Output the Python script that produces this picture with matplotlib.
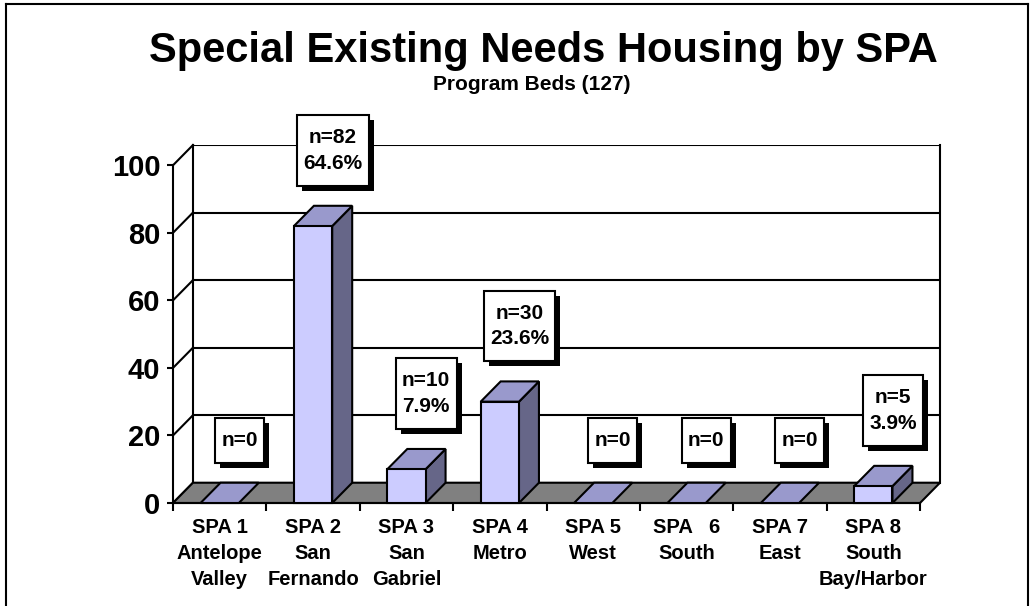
"""
Special Existing Needs Housing by SPA - pseudo 3D column chart
"""

import matplotlib.pyplot as plt
from matplotlib.patches import Polygon
from matplotlib.lines import Line2D
from matplotlib.path import Path
import matplotlib.patheffects as pe

plt.rcParams['font.family'] = ['Liberation Sans', 'DejaVu Sans']
plt.rcParams['font.weight'] = 'bold'

# data
spa_labels = ['SPA 1\nAntelope\nValley', 'SPA 2\nSan\nFernando', 'SPA 3\nSan\nGabriel',
              'SPA 4\nMetro', 'SPA 5\nWest', 'SPA   6\nSouth', 'SPA 7\nEast',
              'SPA 8\nSouth\nBay/Harbor']
beds = [0, 82, 10, 30, 0, 0, 0, 5]
pct_labels = ['', '64.6%', '7.9%', '23.6%', '', '', '', '3.9%']
y_ticks = [0, 20, 40, 60, 80, 100]

# colours
front_col = '#CCCCFF'
top_col = '#9999CC'
side_col = '#666688'
floor_col = '#808080'

# depth of the fake 3D effect, in data units
DX = 0.214
DY = 6.0
bar_w = 0.41
n = len(beds)


def label_box(x0, y0, width, height, mutation_size):
    # rectangle with more room above/below than at the sides
    px = 0.3 * mutation_size
    py = 0.62 * mutation_size
    x0, y0 = x0 - px, y0 - py
    x1, y1 = x0 + width + 2 * px, y0 + height + 2 * py
    return Path([(x0, y0), (x1, y0), (x1, y1), (x0, y1), (x0, y0)], closed=True)


fig = plt.figure(figsize=(10.3, 6.06), dpi=100)
ax = fig.add_axes([173 / 1030, 103 / 606, 767 / 1030, 358 / 606])
ax.set_xlim(0, n + DX)
ax.set_ylim(0, 100 + DY)

# back wall + side wall
for v in y_ticks:
    ax.plot([DX, n + DX], [v + DY, v + DY], color='black', lw=1.5, zorder=1)
    ax.plot([0, DX], [v, v + DY], color='black', lw=1.5, zorder=1, clip_on=False)
ax.plot([DX, DX], [DY, 100 + DY], color='black', lw=1.5, zorder=1, clip_on=False)
ax.plot([n + DX, n + DX], [DY, 100 + DY], color='black', lw=1.5, zorder=1, clip_on=False)

# floor
floor = Polygon([(0, 0), (n, 0), (n + DX, DY), (DX, DY)], closed=True,
                fc=floor_col, ec='black', lw=1.5, zorder=2, clip_on=False)
ax.add_patch(floor)

# bars
for i, v in enumerate(beds):
    x0 = i + 0.5 - bar_w / 2
    x1 = i + 0.5 + bar_w / 2
    if v == 0:
        ax.add_patch(Polygon([(x0, 0), (x1, 0), (x1 + DX, DY), (x0 + DX, DY)],
                             fc=top_col, ec='black', lw=1.5, zorder=3, clip_on=False))
        continue
    ax.add_patch(Polygon([(x1, 0), (x1 + DX, DY), (x1 + DX, v + DY), (x1, v)],
                         fc=side_col, ec='black', lw=1.5, zorder=3, clip_on=False))
    ax.add_patch(Polygon([(x0, v), (x1, v), (x1 + DX, v + DY), (x0 + DX, v + DY)],
                         fc=top_col, ec='black', lw=1.5, zorder=3, clip_on=False))
    ax.add_patch(Polygon([(x0, 0), (x1, 0), (x1, v), (x0, v)],
                         fc=front_col, ec='black', lw=1.5, zorder=4, clip_on=False))

# data labels with drop shadow
for i, v in enumerate(beds):
    txt = f'n={v}' if not pct_labels[i] else f'n={v}\n{pct_labels[i]}'
    t = ax.annotate(txt, xy=(i + 0.5 + DX / 2, v + DY / 2), xytext=(7, 31),
                    textcoords='offset points', ha='center', va='bottom',
                    fontsize=15, fontweight='bold', linespacing=1.45,
                    zorder=10, annotation_clip=False,
                    bbox=dict(boxstyle=label_box, fc='white', ec='black', lw=1.5))
    t.get_bbox_patch().set_path_effects([
        pe.SimplePatchShadow(offset=(3.6, -3.6), shadow_rgbFace='black', alpha=1.0),
        pe.Normal()])

# axes, ticks
for s in ['top', 'right']:
    ax.spines[s].set_visible(False)
ax.spines['left'].set_bounds(0, 100)
ax.spines['bottom'].set_bounds(0, n)
ax.spines['left'].set_linewidth(1.5)
ax.spines['bottom'].set_linewidth(1.5)
ax.set_yticks(y_ticks)
ax.set_yticklabels([str(v) for v in y_ticks], fontsize=21, fontweight='bold')
ax.tick_params(axis='y', direction='out', length=4.5, width=1.5, pad=4.5)

ax.set_xticks(range(n + 1))
ax.set_xticklabels([])
ax.set_xticks([i + 0.5 for i in range(n)], minor=True)
ax.set_xticklabels(spa_labels, minor=True, fontsize=14.5, fontweight='bold',
                   linespacing=1.45)
ax.tick_params(axis='x', which='major', direction='out', length=5.8, width=1.5)
ax.tick_params(axis='x', which='minor', length=0, pad=11)

# titles
fig.text(543 / 1030, 1 - 51 / 606, 'Special Existing Needs Housing by SPA',
         ha='center', va='center', fontsize=30, fontweight='bold')
fig.text(532 / 1030, 1 - 85 / 606, 'Program Beds (127)',
         ha='center', va='center', fontsize=15, fontweight='bold')

# outer frame
fr = dict(color='black', lw=1.5, transform=fig.transFigure)
fig.add_artist(Line2D([6 / 1030, 6 / 1030], [0, 1 - 4 / 606], **fr))
fig.add_artist(Line2D([6 / 1030, 1028 / 1030], [1 - 4 / 606, 1 - 4 / 606], **fr))
fig.add_artist(Line2D([1028 / 1030, 1028 / 1030], [0, 1 - 4 / 606], **fr))

fig.savefig('out.png', dpi=100, facecolor='white')
plt.close('all')
